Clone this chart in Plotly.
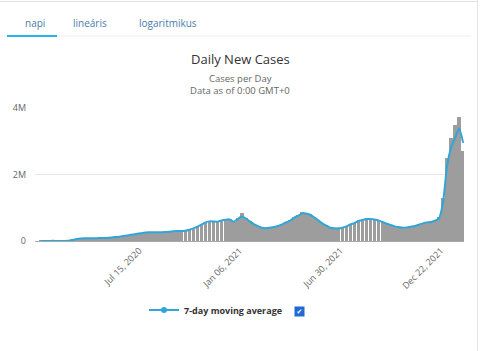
import pandas as pd
import plotly.graph_objects as go

# ---------------- data (weekly, thousands of cases) ----------------
first_week = "2020-01-22"
moving_avg_k = [1, 3, 3, 4, 1.5, 2, 3.5, 10, 28, 60,
                78, 82, 82, 83, 85, 88, 93, 100, 115, 123,
                135, 155, 175, 195, 215, 235, 255, 265, 265, 265,
                260, 270, 280, 295, 300, 300, 310, 340, 380, 430,
                490, 560, 590, 590, 580, 620, 640, 650, 580, 660,
                740, 680, 590, 510, 450, 400, 385, 400, 420, 450,
                500, 560, 610, 700, 760, 830, 830, 790, 710, 620,
                530, 460, 400, 380, 380, 400, 440, 500, 540, 600,
                630, 660, 660, 650, 620, 570, 520, 480, 440, 420,
                400, 410, 430, 450, 490, 530, 560, 570, 610, 680,
                1150, 2250, 2800, 3100, 3380, 2950]
daily_cases_k = [1, 2.5, 3.5, 6, 1.2, 2.2, 4, 12, 32, 64,
                 80, 85, 78, 86, 82, 92, 90, 104, 118, 128,
                 138, 160, 180, 200, 222, 240, 262, 270, 258, 272,
                 256, 276, 285, 300, 310, 295, 318, 350, 392, 445,
                 505, 575, 610, 580, 600, 640, 660, 670, 560, 690,
                 840, 700, 600, 520, 460, 410, 380, 410, 430, 465,
                 515, 575, 630, 720, 790, 860, 845, 800, 720, 630,
                 540, 470, 410, 375, 390, 410, 455, 515, 555, 620,
                 650, 680, 670, 660, 630, 580, 530, 490, 450, 425,
                 395, 420, 440, 465, 505, 545, 575, 590, 630, 720,
                 1300, 2500, 3100, 3500, 3730, 2700]
tick_dates = ["2020-07-15", "2021-01-06", "2021-06-30", "2021-12-22"]
tick_labels = ["Jul 15, 2020", "Jan 06, 2021", "Jun 30, 2021", "Dec 22, 2021"]
y_ticks = [0, 2_000_000, 4_000_000]
y_tick_labels = ["0", "2M", "4M"]
tabs = ["napi", "lineáris", "logaritmikus"]

weeks = pd.date_range(first_week, periods=len(moving_avg_k), freq="7D") + pd.Timedelta(hours=84)
avg = [v * 1000 for v in moving_avg_k]
daily = [v * 1000 for v in daily_cases_k]

W, H = 480, 351
ML, MR, MT, MB = 35, 16, 108, 110
PW, PH = W - ML - MR, H - MT - MB


def px(x):
    return (x - ML) / PW


def py(y):
    return (H - MB - y) / PH


FONT = "Open Sans"
BLUE = "#31a5d8"

fig = go.Figure()
fig.add_trace(go.Bar(x=weeks, y=daily, width=6.5 * 86400000,
                     marker=dict(color="#9d9d9d", line=dict(width=0)),
                     showlegend=False, name="Daily Cases"))
fig.add_trace(go.Scatter(x=weeks, y=avg, mode="lines",
                         line=dict(color=BLUE, width=2, shape="spline", smoothing=0.6),
                         showlegend=False, name="7-day moving average"))
fig.add_trace(go.Scatter(x=[None], y=[None], mode="lines+markers",
                         line=dict(color=BLUE, width=2), marker=dict(color=BLUE, size=6),
                         name="7-day moving average"))

ann = []
# tabs
for t, xc in zip(tabs, [35, 90, 168]):
    ann.append(dict(x=px(xc), y=py(23), xref="paper", yref="paper", text=t, showarrow=False,
                    font=dict(family=FONT, size=10, color="#4a7cad"), xanchor="center", yanchor="middle"))
# titles
ann.append(dict(x=px(240), y=py(59), xref="paper", yref="paper", text="Daily New Cases", showarrow=False,
                font=dict(family=FONT, size=13, color="#333333"), xanchor="center", yanchor="middle"))
ann.append(dict(x=px(240), y=py(78.5), xref="paper", yref="paper", text="Cases per Day", showarrow=False,
                font=dict(family=FONT, size=9.5, color="#666666"), xanchor="center", yanchor="middle"))
ann.append(dict(x=px(240), y=py(90.5), xref="paper", yref="paper", text="Data as of 0:00 GMT+0", showarrow=False,
                font=dict(family=FONT, size=9.5, color="#666666"), xanchor="center", yanchor="middle"))
# checkbox
ann.append(dict(x=px(299), y=py(311), xref="paper", yref="paper", text="<b>✔</b>", showarrow=False,
                font=dict(family="DejaVu Sans", size=7, color="white"), bgcolor="#1f6ad4",
                width=9, height=9, borderpad=0, xanchor="center", yanchor="middle", align="center", valign="middle"))

shapes = [
    dict(type="line", xref="paper", yref="paper", x0=px(0), x1=px(478), y0=py(1.5), y1=py(1.5),
         line=dict(color="#e2e2e2", width=1)),
    dict(type="line", xref="paper", yref="paper", x0=px(0), x1=px(471), y0=py(36), y1=py(36),
         line=dict(color="#efefef", width=1)),
    dict(type="line", xref="paper", yref="paper", x0=px(7), x1=px(57), y0=py(36), y1=py(36),
         line=dict(color="#26b4ee", width=2)),
    dict(type="line", xref="paper", yref="paper", x0=px(477.5), x1=px(477.5), y0=py(0), y1=py(351),
         line=dict(color="#e6e6e6", width=1)),
]

fig.update_layout(
    width=W, height=H, margin=dict(l=ML, r=MR, t=MT, b=MB),
    paper_bgcolor="white", plot_bgcolor="white",
    font=dict(family=FONT, color="#666666"),
    bargap=0,
    annotations=ann, shapes=shapes,
    showlegend=True,
    legend=dict(orientation="h", x=px(144), y=py(310), xanchor="left", yanchor="middle",
                font=dict(family=FONT, size=9, color="#333333", weight="bold"),
                bgcolor="rgba(0,0,0,0)"),
    xaxis=dict(type="date", range=["2020-01-16", "2022-01-31"], tickvals=tick_dates, ticktext=tick_labels,
               tickangle=-45, tickfont=dict(size=9, color="#666666"), showgrid=False, ticks="",
               showline=True, linecolor="#a8a8a8", linewidth=1, zeroline=False),
    yaxis=dict(range=[0, 4_000_000], tickvals=y_ticks, ticktext=y_tick_labels,
               tickfont=dict(size=9, color="#666666"), showgrid=True, gridcolor="#e6e6e6",
               zeroline=False, ticks="", ticklabelstandoff=8, fixedrange=True),
    hovermode=False,
)

fig.write_html("out.html")
